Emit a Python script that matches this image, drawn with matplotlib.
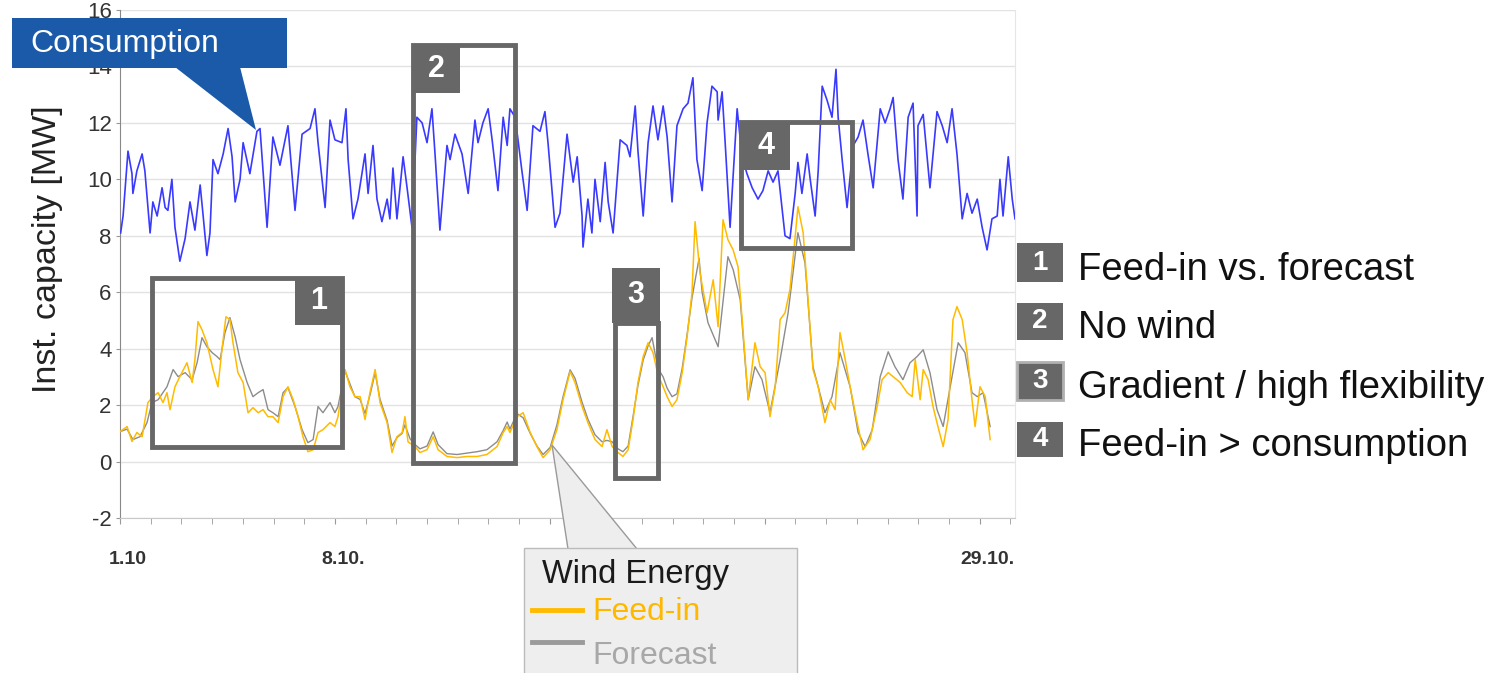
import matplotlib
matplotlib.use('Agg')
import matplotlib.pyplot as plt
from matplotlib.patches import Rectangle, Polygon
from matplotlib.lines import Line2D
from matplotlib.transforms import Affine2D, ScaledTranslation
from matplotlib.ticker import MultipleLocator

plt.rcParams['font.family'] = ['Liberation Sans', 'DejaVu Sans']
plt.rcParams['axes.unicode_minus'] = False

# Consumption, days since 1 Oct vs MW.
cons_day = [0.02, 0.10, 0.26, 0.39, 0.42, 0.55, 0.72, 0.81, 0.98, 1.07, 1.21, 1.37, 1.47, 1.56,
            1.69, 1.79, 1.95, 2.12, 2.28, 2.44, 2.61, 2.70, 2.83, 2.93, 3.03, 3.19, 3.36, 3.52,
            3.65, 3.75, 3.91, 4.01, 4.23, 4.46, 4.56, 4.79, 4.98, 5.21, 5.47, 5.70, 5.93, 6.19,
            6.35, 6.45, 6.68, 6.84, 7.00, 7.23, 7.36, 7.43, 7.59, 7.75, 7.98, 8.08, 8.24, 8.37,
            8.53, 8.70, 8.79, 8.89, 9.02, 9.22, 9.35, 9.51, 9.67, 9.84, 10.00, 10.16, 10.26,
            10.42, 10.65, 10.75, 10.91, 11.14, 11.34, 11.56, 11.66, 11.82, 11.99, 12.12, 12.31,
            12.48, 12.61, 12.70, 12.87, 13.09, 13.26, 13.45, 13.68, 13.84, 13.94, 14.17, 14.33,
            14.56, 14.76, 14.89, 15.05, 15.08, 15.24, 15.37, 15.47, 15.64, 15.80, 15.90, 16.06,
            16.29, 16.51, 16.61, 16.78, 16.87, 17.04, 17.20, 17.36, 17.52, 17.69, 17.82, 17.98,
            18.14, 18.34, 18.50, 18.66, 18.79, 18.96, 19.12, 19.28, 19.45, 19.48, 19.61, 19.71,
            19.87, 20.10, 20.26, 20.42, 20.59, 20.78, 20.94, 21.11, 21.27, 21.43, 21.66, 21.82,
            21.99, 22.08, 22.21, 22.38, 22.48, 22.64, 22.74, 22.87, 23.03, 23.19, 23.32, 23.39,
            23.52, 23.68, 23.88, 24.04, 24.20, 24.36, 24.53, 24.76, 24.92, 25.08, 25.18, 25.34,
            25.50, 25.67, 25.83, 25.96, 25.99, 26.16, 26.38, 26.61, 26.78, 26.94, 27.10, 27.26,
            27.43, 27.59, 27.75, 27.92, 28.08, 28.24, 28.40, 28.57, 28.66, 28.76, 28.93, 29.06,
            29.15]
cons_mw = [8.1, 8.7, 11.0, 10.2, 9.5, 10.3, 10.9, 10.3, 8.1, 9.2, 8.7, 9.7, 9.0, 8.9,
           10.0, 8.3, 7.1, 7.9, 9.2, 8.2, 9.8, 8.8, 7.3, 8.1, 10.7, 10.2, 10.9, 11.8,
           10.8, 9.2, 10.0, 11.3, 10.2, 11.7, 11.8, 8.3, 11.5, 10.5, 11.9, 8.9, 11.6, 11.8,
           12.5, 11.3, 9.0, 12.1, 11.4, 11.3, 12.5, 10.7, 8.6, 9.3, 10.9, 9.5, 11.2, 9.3,
           8.5, 9.3, 8.6, 10.4, 8.6, 10.8, 9.7, 8.3, 12.2, 12.0, 11.3, 12.5, 10.9,
           8.2, 11.2, 10.7, 11.6, 10.9, 9.5, 12.1, 11.3, 12.0, 12.5, 11.4, 9.6,
           12.2, 11.2, 12.5, 12.2, 10.3, 8.9, 11.9, 11.7, 12.4, 11.3, 8.3, 8.8,
           11.6, 9.9, 10.8, 8.7, 7.6, 9.3, 8.1, 10.0, 8.5, 10.6, 9.2, 8.1,
           11.4, 11.2, 10.8, 12.6, 11.0, 8.7, 11.3, 12.6, 11.4, 12.6, 11.5, 9.2,
           11.9, 12.5, 12.7, 13.6, 10.7, 9.6, 12.0, 13.3, 13.1, 12.1, 13.1, 11.3,
           8.3, 12.5, 10.8, 10.2, 9.7, 9.3, 9.6, 10.3, 9.9, 10.3, 8.0, 7.9,
           9.5, 10.6, 9.5, 10.9, 10.0, 8.7, 10.3, 13.3, 12.8, 12.2, 13.9, 12.2,
           10.7, 9.0, 11.2, 11.5, 12.1, 10.9, 9.7, 12.5, 12.0, 12.5, 12.9, 10.7,
           9.3, 12.2, 12.7, 8.7, 11.9, 12.3, 9.7, 12.4, 11.9, 11.3, 12.5, 10.9,
           8.6, 9.5, 8.8, 9.3, 8.3, 7.5, 8.6, 8.7, 10.0, 8.7, 10.8, 9.3,
           8.6]

# Wind feed-in.
feed_day = [0.00, 0.23, 0.39, 0.55, 0.72, 0.91, 1.07, 1.24, 1.40, 1.53, 1.63, 1.79, 1.95, 2.18,
            2.35, 2.44, 2.54, 2.67, 2.83, 3.03, 3.19, 3.32, 3.45, 3.58, 3.68, 3.84, 4.01, 4.17,
            4.33, 4.50, 4.66, 4.82, 4.98, 5.15, 5.31, 5.47, 5.64, 5.80, 5.96, 6.12, 6.29, 6.45,
            6.61, 6.84, 7.00, 7.10, 7.33, 7.49, 7.65, 7.82, 7.98, 8.14, 8.31, 8.47, 8.70, 8.86,
            9.02, 9.19, 9.28, 9.38, 9.61, 9.77, 10.00, 10.20, 10.36, 10.65, 10.98, 11.30, 11.63,
            11.95, 12.28, 12.48, 12.61, 12.70, 12.93, 13.13, 13.36, 13.58, 13.78, 14.01, 14.23,
            14.43, 14.66, 14.82, 15.05, 15.24, 15.47, 15.70, 15.86, 16.03, 16.22, 16.38, 16.55,
            16.71, 16.87, 17.04, 17.20, 17.36, 17.52, 17.69, 17.82, 17.98, 18.14, 18.31, 18.47,
            18.63, 18.73, 18.89, 19.12, 19.32, 19.48, 19.64, 19.80, 19.97, 20.13, 20.29, 20.46,
            20.68, 20.85, 21.01, 21.17, 21.34, 21.50, 21.66, 21.82, 21.99, 22.08, 22.25, 22.41,
            22.57, 22.74, 22.96, 23.13, 23.29, 23.45, 23.62, 23.78, 24.01, 24.20, 24.43, 24.66,
            24.82, 25.02, 25.18, 25.41, 25.64, 25.80, 25.90, 26.06, 26.16, 26.32, 26.48, 26.64,
            26.81, 26.97, 27.13, 27.26, 27.43, 27.59, 27.75, 27.85, 28.01, 28.18, 28.34]
feed_mw = [1.06, 1.24, 0.71, 1.03, 0.88, 2.09, 2.30, 2.44, 2.09, 2.44, 1.84, 2.65, 3.01, 3.50,
           2.80, 3.61, 4.96, 4.67, 4.21, 3.26, 2.65, 3.96, 5.13, 5.03, 4.21, 3.15, 2.80, 1.73,
           1.91, 1.73, 1.84, 1.59, 1.59, 1.38, 2.30, 2.65, 2.19, 1.59, 0.88, 0.35, 0.42, 1.03,
           1.13, 1.38, 1.24, 1.59, 3.26, 2.65, 2.30, 2.30, 1.49, 2.44, 3.26, 2.09, 1.38, 0.32,
           0.88, 1.03, 1.59, 0.70, 0.53, 0.32, 0.42, 0.88, 0.42, 0.18, 0.14, 0.18, 0.18,
           0.25, 0.53, 1.03, 1.24, 1.03, 1.59, 1.73, 1.03, 0.53, 0.14, 0.42, 1.13,
           2.19, 3.19, 2.80, 1.95, 1.38, 0.78, 0.53, 1.13, 0.53, 0.32, 0.18, 0.42,
           1.49, 2.80, 3.72, 4.21, 3.86, 3.08, 2.65, 2.30, 1.95, 2.19, 3.15, 4.42,
           5.98, 8.50, 6.69, 5.27, 6.44, 4.78, 8.57, 7.86, 7.50, 6.90, 4.67, 2.19,
           4.21, 3.36, 3.15, 1.59, 2.65, 5.03, 5.27, 6.09, 7.96, 9.03, 8.11, 5.73,
           3.26, 2.65, 1.38, 2.19, 1.84, 4.57, 3.61, 2.65, 1.38, 0.42, 0.78, 1.95,
           2.90, 3.15, 3.01, 2.80, 2.44, 2.30, 3.61, 2.19, 3.26, 2.90, 1.95, 1.24,
           0.53, 1.49, 5.03, 5.49, 5.03, 3.86, 2.19, 1.24, 2.65, 2.30, 0.78]

# Wind forecast.
fc_day = [0.00, 0.23, 0.42, 0.65, 0.88, 1.04, 1.24, 1.53, 1.73, 1.89, 2.12, 2.35, 2.51, 2.67,
          2.83, 3.00, 3.16, 3.26, 3.42, 3.58, 3.75, 3.91, 4.14, 4.33, 4.50, 4.66, 4.82, 4.98,
          5.15, 5.31, 5.47, 5.70, 5.93, 6.12, 6.29, 6.45, 6.61, 6.84, 7.00, 7.10, 7.33, 7.49,
          7.65, 7.82, 7.98, 8.14, 8.31, 8.47, 8.70, 8.86, 9.02, 9.19, 9.28, 9.45, 9.61, 9.77,
          10.00, 10.20, 10.36, 10.65, 10.98, 11.30, 11.63, 11.95, 12.28, 12.48, 12.61, 12.70,
          12.93, 13.13, 13.36, 13.58, 13.78, 14.01, 14.23, 14.43, 14.66, 14.82, 15.05, 15.24,
          15.47, 15.70, 15.86, 16.03, 16.22, 16.38, 16.55, 16.71, 16.87, 17.04, 17.20, 17.33,
          17.52, 17.69, 17.82, 17.98, 18.14, 18.31, 18.47, 18.63, 18.86, 18.96, 19.15, 19.48,
          19.80, 19.97, 20.20, 20.46, 20.68, 20.91, 21.17, 21.50, 21.76, 22.08, 22.31, 22.57,
          22.96, 23.19, 23.45, 23.78, 24.04, 24.27, 24.50, 24.76, 25.02, 25.24, 25.50, 25.73,
          25.96, 26.16, 26.38, 26.61, 26.81, 27.04, 27.30, 27.52, 27.75, 27.92, 28.11, 28.34]
fc_mw = [1.06, 1.15, 0.78, 0.88, 1.38, 2.09, 2.19, 2.65, 3.26, 3.01, 3.15, 2.90, 3.50, 4.39,
         4.07, 3.86, 3.72, 3.61, 4.57, 5.10, 4.42, 3.61, 2.80, 2.30, 2.44, 2.55, 1.84, 1.73,
         1.59, 2.44, 2.62, 1.95, 1.13, 0.67, 0.78, 1.95, 1.73, 2.09, 1.73, 1.95, 3.20, 2.75,
         2.30, 2.20, 1.70, 2.35, 3.15, 2.20, 1.45, 0.55, 0.85, 1.00, 1.30, 0.80, 0.60, 0.45,
         0.55, 1.05, 0.60, 0.28, 0.25, 0.30, 0.35, 0.42, 0.70, 1.10, 1.40, 1.15,
         1.70, 1.55, 1.00, 0.55, 0.25, 0.50, 1.30, 2.30, 3.25, 2.95, 2.10, 1.50,
         0.95, 0.70, 0.75, 0.70, 0.45, 0.35, 0.55, 1.60, 2.70, 3.60, 4.10, 4.39,
         3.30, 3.00, 2.60, 2.30, 2.40, 3.30, 4.50, 5.80, 7.20, 6.00, 4.92, 4.07,
         7.26, 6.80, 5.73, 2.19, 3.36, 2.90, 1.73, 3.61, 5.27, 8.11, 7.04, 3.36,
         1.73, 2.30, 3.86, 2.65, 1.03, 0.53, 1.13, 3.01, 3.89, 3.36, 2.90, 3.50,
         3.72, 3.96, 3.15, 1.84, 1.24, 2.65, 4.21, 3.86, 2.44, 2.30, 2.44, 1.24]

tick_days = [0, 7, 14, 21, 28]
tick_labels = ['1.10', '8.10.', '15.10.', '22.10.', '29.10.']

# Highlight frames (day0, day1, mw0, mw1) and their number tags.
frames = [(1.04, 7.23, 0.53, 6.51), (9.54, 12.87, -0.04, 14.76),
          (16.12, 17.52, -0.57, 4.92), (20.23, 23.84, 7.58, 12.04)]
tags = [('1', 5.70, 7.23, 4.85, 6.51), ('2', 9.54, 11.07, 13.06, 14.76),
        ('3', 16.03, 17.59, 4.92, 6.87), ('4', 20.23, 21.82, 10.34, 12.04)]
notes = ['Feed-in vs. forecast', 'No wind', 'Gradient / high flexibility',
         'Feed-in > consumption']

W, H = 1497, 673
fig = plt.figure(figsize=(W / 100, H / 100), dpi=100)
ax = fig.add_axes([120 / W, 1 - 518 / H, 895 / W, 508 / H])
# pixel coordinates measured from the top-left corner of the image
px = Affine2D().scale(1 / W, -1 / H).translate(0, 1) + fig.transFigure

ax.plot(cons_day, cons_mw, color='#3a3aff', lw=1.2, zorder=3)
ax.plot(fc_day, fc_mw, color='#8c8c8c', lw=1.0, zorder=3)
ax.plot(feed_day, feed_mw, color='#ffbb00', lw=1.1, zorder=3)

ax.set_xlim(0, 29.15)
ax.set_ylim(-2, 16)
ax.set_yticks(range(-2, 17, 2))
ax.set_xticks(tick_days)
ax.set_xticklabels(tick_labels, fontweight='bold', fontsize=14, color='#333333')
ax.xaxis.set_minor_locator(MultipleLocator(1))
ax.tick_params(axis='x', which='both', length=4, color='#999999', pad=20)
ax.tick_params(axis='y', length=3, color='#999999', labelsize=16, labelcolor='#333333', pad=3)
# the date labels sit a little right of their ticks
shift = ScaledTranslation(8 / 100, 0, fig.dpi_scale_trans)
for lbl in ax.get_xticklabels():
    lbl.set_transform(lbl.get_transform() + shift)
ax.grid(axis='y', color='#e2e2e2', lw=1)
ax.set_axisbelow(True)
ax.spines['top'].set_visible(False)
ax.spines['right'].set_color('#e6e6e6')
ax.spines['left'].set_color('#888888')
ax.spines['bottom'].set_color('#c8c8c8')
ax.set_ylabel('Inst. capacity [MW]', fontsize=24.5, color='#222222')
ax.yaxis.set_label_coords(-0.064, 0.53)

for d0, d1, m0, m1 in frames:
    ax.add_patch(Rectangle((d0, m0), d1 - d0, m1 - m0, fill=False, ec='#676767',
                           lw=3.5, clip_on=False, zorder=5))
for num, d0, d1, m0, m1 in tags:
    ax.add_patch(Rectangle((d0, m0), d1 - d0, m1 - m0, fc='#676767', ec='none',
                           clip_on=False, zorder=6))
    ax.text((d0 + d1) / 2, (m0 + m1) / 2, num, color='white', fontsize=22,
            fontweight='bold', ha='center', va='center', zorder=7)

# Consumption callout
fig.add_artist(Polygon([(12, 18), (287, 18), (287, 68), (12, 68)], closed=True,
                       fc='#1b5aa8', ec='none', transform=px))
fig.add_artist(Polygon([(175, 67), (240, 67), (256, 130)], closed=True,
                       fc='#1b5aa8', ec='none', transform=px))
fig.text(30, 44, 'Consumption', transform=px, color='white', fontsize=23,
         ha='left', va='center')

# Wind energy legend callout
fig.add_artist(Polygon([(552, 445), (568, 549), (637, 549)], closed=True,
                       fc='#eeeeee', ec='#9a9a9a', lw=1, transform=px))
fig.add_artist(Polygon([(524, 548), (797, 548), (797, 680), (524, 680)], closed=True,
                       fc='#eeeeee', ec='#bbbbbb', lw=1, transform=px))
fig.text(542, 575, 'Wind Energy', transform=px, color='#1a1a1a', fontsize=23.5,
         ha='left', va='center')
fig.add_artist(Line2D([532, 582], [610, 610], color='#ffbb00', lw=3.5, transform=px))
fig.text(592, 612, 'Feed-in', transform=px, color='#ffb800', fontsize=23,
         ha='left', va='center')
fig.add_artist(Line2D([532, 582], [642, 642], color='#9a9a9a', lw=3.5, transform=px))
fig.text(592, 656, 'Forecast', transform=px, color='#a8a8a8', fontsize=23,
         ha='left', va='center')

# Numbered notes on the right
rows = [(243, 282), (303, 340), (362, 400), (422, 457)]
for (num, *_), note, (top, bot) in zip(tags, notes, rows):
    fig.add_artist(Polygon([(1017, top), (1063, top), (1063, bot), (1017, bot)],
                           closed=True, fc='#676767',
                           ec='#b0b0b0' if num == '3' else 'none', lw=2, transform=px))
    fig.text(1040, (top + bot) / 2, num, transform=px, color='white', fontsize=20,
             fontweight='bold', ha='center', va='center')
    fig.text(1078, (top + bot) / 2 + 7, note, transform=px, color='#111111',
             fontsize=27.5, ha='left', va='center')

fig.savefig('out.png', dpi=100)
